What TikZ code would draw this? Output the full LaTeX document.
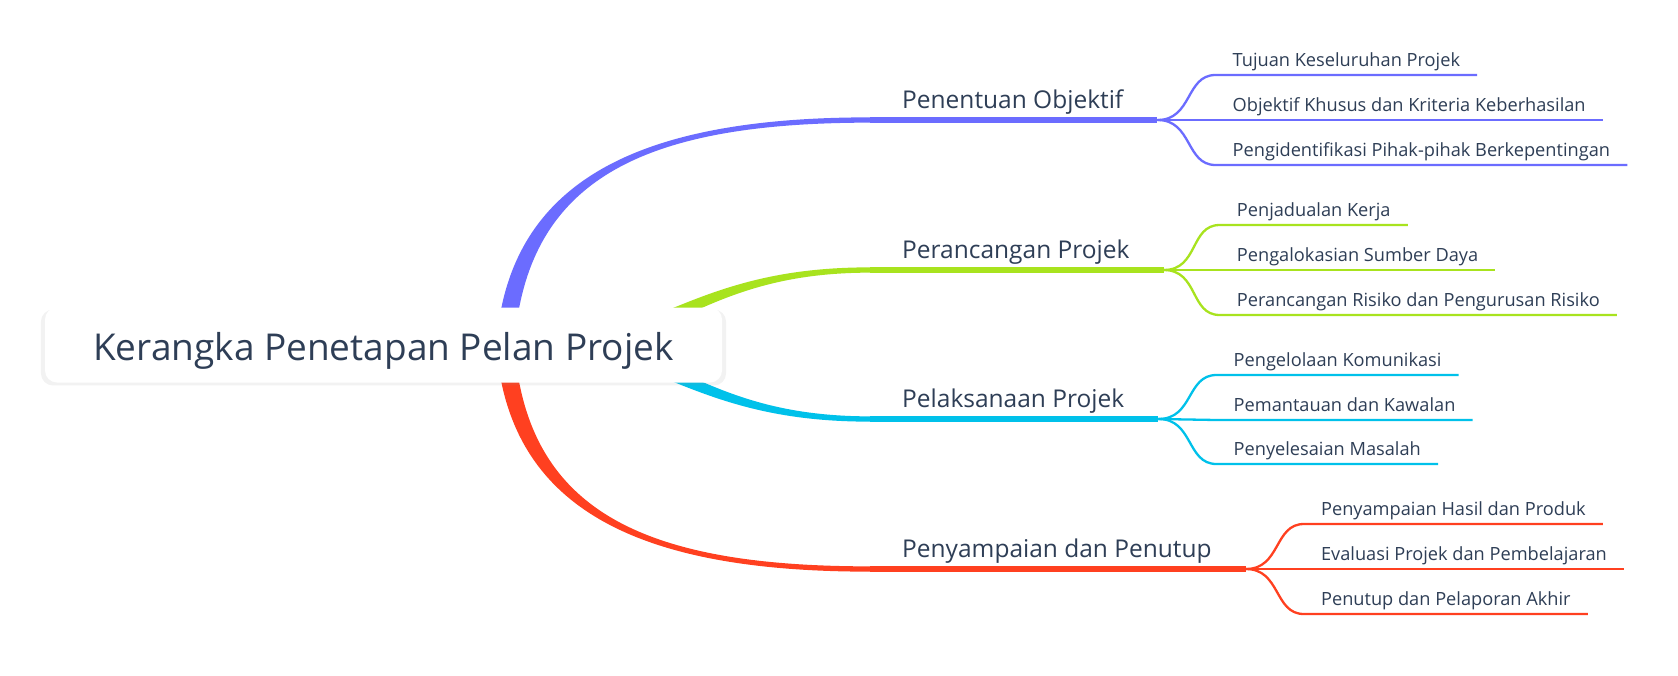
\documentclass[tikz,border=0pt]{standalone}
\usepackage{fontspec}
\setmainfont{Open Sans}
\usetikzlibrary{calc,shadows,backgrounds}

\definecolor{inkslate}{RGB}{46,62,86}
\definecolor{objblue}{RGB}{107,108,255}
\definecolor{plangreen}{RGB}{168,227,30}
\definecolor{runcyan}{RGB}{0,193,234}
\definecolor{endred}{RGB}{255,64,32}

% tapered main branch: colour, start, control 1, control 2, end, half width at start, half width at end
\newcommand{\taperbranch}[7]{%
  \fill[#1] ($(#2)!#6!90:(#3)$) .. controls ($(#3)!#6!-90:(#2)$) and ($(#4)!#7!90:(#5)$) .. ($(#5)!#7!-90:(#4)$)
    -- ($(#5)!#7!90:(#4)$) .. controls ($(#4)!#7!-90:(#5)$) and ($(#3)!#6!90:(#2)$) .. ($(#2)!#6!-90:(#3)$) -- cycle;}

\begin{document}
\begin{tikzpicture}[x=1pt,y=-1pt]

    \tikzset{
      root/.style={
        fill=white,
        rounded corners=12pt,
        minimum width=677pt,
        minimum height=75pt,
        text height=30pt,
        text depth=0pt,
        text=inkslate,
        font=\fontsize{37}{44}\selectfont,
        drop shadow={shadow xshift=0pt,shadow yshift=-2.5pt,shadow scale=1.012,fill=black!45,opacity=0.11},
      },
      topic/.style={
        anchor=south west,
        inner xsep=0pt,
        inner ysep=0pt,
        text depth=11.7pt,
        text=inkslate,
        font=\fontsize{24.5}{29}\selectfont,
      },
      leaf/.style={
        anchor=south west,
        inner xsep=17pt,
        inner ysep=0pt,
        text depth=8pt,
        text=inkslate,
        font=\fontsize{18.2}{22}\selectfont,
      },
      stem/.style={line width=5.3pt},
      twig/.style={line width=2.3pt},
    }
    \useasboundingbox (0,0) rectangle (1678,675);

    \node[root] (root) at (383.5,345) {Kerangka Penetapan Pelan Projek};

    % topics
    \node[topic] (t1) at (902,120) {Penentuan Objektif};
    \node[topic] (t2) at (902,270) {Perancangan Projek};
    \node[topic] (t3) at (902,419) {Pelaksanaan Projek};
    \node[topic] (t4) at (902,569) {Penyampaian dan Penutup};

    \coordinate (b1a) at ($(root.center)+(121.5,5)$);
    \coordinate (b2a) at ($(root.center)+(196.5,7)$);
    \coordinate (b3a) at ($(root.center)+(196.5,-7)$);
    \coordinate (b4a) at ($(root.center)+(121.5,-5)$);
    \coordinate (b1b) at ($(t1.south west)+(-32,0)$);
    \coordinate (b2b) at ($(t2.south west)+(-32,0)$);
    \coordinate (b3b) at ($(t3.south west)+(-32,0)$);
    \coordinate (b4b) at ($(t4.south west)+(-32,0)$);
    \coordinate (b1e) at ($(t1.south east)+(34,0)$);
    \coordinate (b2e) at ($(t2.south east)+(34,0)$);
    \coordinate (b3e) at ($(t3.south east)+(34,0)$);
    \coordinate (b4e) at ($(t4.south east)+(34,0)$);

    % leaves
    \node[leaf] (l11) at ($(b1e)+(58,-45)$) {Tujuan Keseluruhan Projek};
    \node[leaf] (l12) at ($(b1e)+(58,0)$) {Objektif Khusus dan Kriteria Keberhasilan};
    \node[leaf] (l13) at ($(b1e)+(58,45)$) {Pengidentifikasi Pihak-pihak Berkepentingan};
    \node[leaf] (l21) at ($(b2e)+(56,-45)$) {Penjadualan Kerja};
    \node[leaf] (l22) at ($(b2e)+(56,0)$) {Pengalokasian Sumber Daya};
    \node[leaf] (l23) at ($(b2e)+(56,45)$) {Perancangan Risiko dan Pengurusan Risiko};
    \node[leaf] (l31) at ($(b3e)+(58,-44)$) {Pengelolaan Komunikasi};
    \node[leaf] (l32) at ($(b3e)+(58,1)$) {Pemantauan dan Kawalan};
    \node[leaf] (l33) at ($(b3e)+(58,45)$) {Penyelesaian Masalah};
    \node[leaf] (l41) at ($(b4e)+(58,-45)$) {Penyampaian Hasil dan Produk};
    \node[leaf] (l42) at ($(b4e)+(58,0)$) {Evaluasi Projek dan Pembelajaran};
    \node[leaf] (l43) at ($(b4e)+(58,45)$) {Penutup dan Pelaporan Akhir};

    \begin{scope}[on background layer]
      \fill[white] (0,0) rectangle (1678,675);

      \taperbranch{objblue}{b1a}{515,180}{640,120}{b1b}{9pt}{2.65pt}
      \taperbranch{plangreen}{b2a}{680,320}{730,270}{b2b}{7.5pt}{2.65pt}
      \taperbranch{runcyan}{b3a}{680,370}{730,419}{b3b}{7.5pt}{2.65pt}
      \taperbranch{endred}{b4a}{515,510}{640,569}{b4b}{9pt}{2.65pt}

      \draw[objblue,stem] (b1b) -- (b1e);
      \draw[plangreen,stem] (b2b) -- (b2e);
      \draw[runcyan,stem] (b3b) -- (b3e);
      \draw[endred,stem] (b4b) -- (b4e);

      \draw[objblue,twig] (b1e) .. controls +(35,0) and +(-30,0) .. (l11.south west) -- (l11.south east);
      \draw[objblue,twig] (b1e) -- (l12.south west) -- (l12.south east);
      \draw[objblue,twig] (b1e) .. controls +(35,0) and +(-30,0) .. (l13.south west) -- (l13.south east);
      \draw[plangreen,twig] (b2e) .. controls +(35,0) and +(-30,0) .. (l21.south west) -- (l21.south east);
      \draw[plangreen,twig] (b2e) -- (l22.south west) -- (l22.south east);
      \draw[plangreen,twig] (b2e) .. controls +(35,0) and +(-30,0) .. (l23.south west) -- (l23.south east);
      \draw[runcyan,twig] (b3e) .. controls +(35,0) and +(-30,0) .. (l31.south west) -- (l31.south east);
      \draw[runcyan,twig] (b3e) -- (l32.south west) -- (l32.south east);
      \draw[runcyan,twig] (b3e) .. controls +(35,0) and +(-30,0) .. (l33.south west) -- (l33.south east);
      \draw[endred,twig] (b4e) .. controls +(35,0) and +(-30,0) .. (l41.south west) -- (l41.south east);
      \draw[endred,twig] (b4e) -- (l42.south west) -- (l42.south east);
      \draw[endred,twig] (b4e) .. controls +(35,0) and +(-30,0) .. (l43.south west) -- (l43.south east);
    \end{scope}

\end{tikzpicture}
\end{document}
